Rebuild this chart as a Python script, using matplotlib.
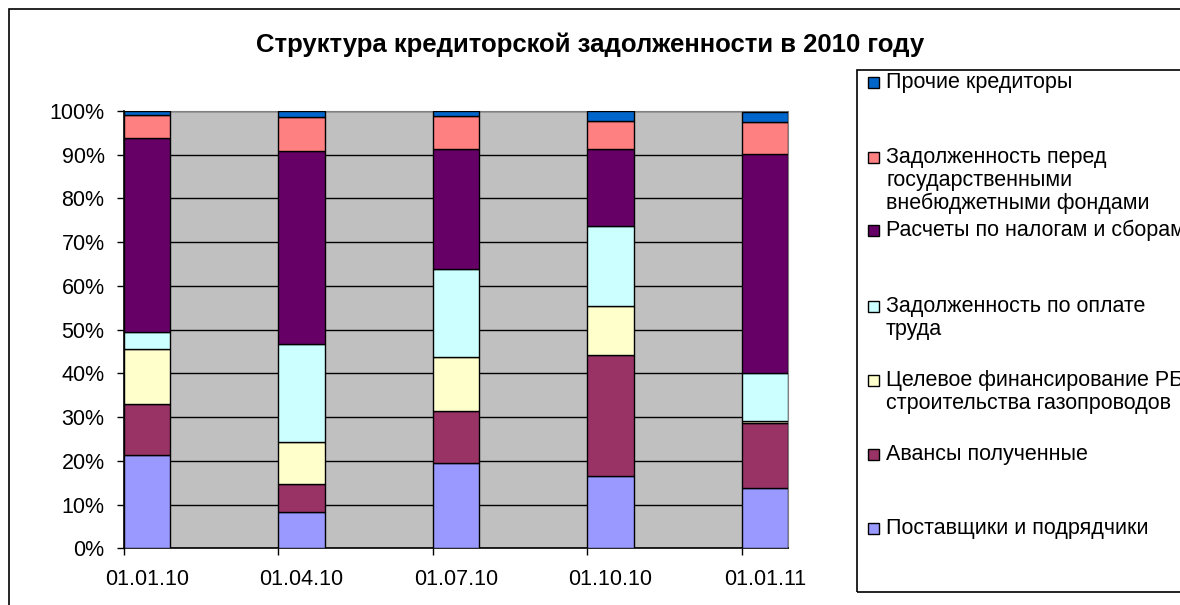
import matplotlib
matplotlib.use("Agg")
import matplotlib.pyplot as plt
from matplotlib.patches import Rectangle
from matplotlib.ticker import PercentFormatter
import numpy as np

plt.rcParams['font.family'] = ['Liberation Sans', 'DejaVu Sans']

dates = ["01.01.10", "01.04.10", "01.07.10", "01.10.10", "01.01.11"]

# shares, % (bottom to top)
suppliers = [21.4, 8.3, 19.6, 16.5, 13.9]
advances = [11.6, 6.4, 11.9, 27.7, 14.7]
target_fin = [12.6, 9.5, 12.3, 11.3, 0.4]
wages = [3.9, 22.5, 20.0, 18.2, 11.0]
taxes = [44.3, 44.2, 27.5, 17.6, 50.1]
funds = [5.2, 7.8, 7.6, 6.5, 7.3]
other = [1.0, 1.3, 1.1, 2.2, 2.4]

series = [suppliers, advances, target_fin, wages, taxes, funds, other]
names = ["Поставщики и подрядчики",
         "Авансы полученные",
         "Целевое финансирование РБ\nстроительства газопроводов",
         "Задолженность по оплате\nтруда",
         "Расчеты по налогам и сборам",
         "Задолженность перед\nгосударственными\nвнебюджетными фондами",
         "Прочие кредиторы"]
colors = ["#9999FF", "#993366", "#FFFFCC", "#CCFFFF", "#660066", "#FF8080", "#0066CC"]

W, H = 1180, 605
fig = plt.figure(figsize=(W / 100, H / 100), dpi=100)
ax = fig.add_axes([124 / W, (H - 548.3) / H, 664 / W, 437.3 / H])

x = np.arange(len(dates))
bottom = np.zeros(len(dates))
for vals, col in zip(series, colors):
    ax.bar(x, vals, width=0.3, bottom=bottom, color=col, edgecolor="black",
           linewidth=1.0, zorder=3)
    bottom += np.array(vals)

ax.set_facecolor("#C0C0C0")
ax.set_xlim(-0.15, 4.15)
ax.set_ylim(0, 100)
ax.set_yticks(np.arange(0, 101, 10))
ax.yaxis.set_major_formatter(PercentFormatter(decimals=0))
ax.grid(axis="y", color="black", linewidth=1.0, zorder=1)
ax.set_axisbelow(True)

ax.set_xticks(x)
ax.set_xticklabels(dates)
ax.set_xticks(x - 0.15, minor=True)
ax.tick_params(axis="x", which="major", length=0, pad=15, labelsize=15.5)
ax.tick_params(axis="x", which="minor", length=5, width=1, direction="out")
ax.tick_params(axis="y", length=5, width=1, pad=9, labelsize=15.5)

ax.spines["top"].set_color("#808080")
ax.spines["right"].set_color("#808080")
for s in ["left", "bottom"]:
    ax.spines[s].set_linewidth(1.2)

fig.text(590 / W, 1 - 45 / H, "Структура кредиторской задолженности в 2010 году",
         ha="center", va="center", fontsize=18.5, fontweight="bold")

# outer chart frame and legend frame
fig.add_artist(Rectangle((9 / W, -0.1), 1.2, 1.1 - 9 / H, transform=fig.transFigure,
                         fill=False, edgecolor="black", linewidth=1.2))
fig.add_artist(Rectangle((857 / W, 1 - 592 / H), 1.0, (592 - 70) / H,
                         transform=fig.transFigure, fill=False,
                         edgecolor="black", linewidth=1.2))

# legend entries (top to bottom, first line centre in px)
leg_y = [82, 157, 230, 306, 380, 454, 528]
for name, col, yc in zip(names[::-1], colors[::-1], leg_y):
    s = 11
    fig.add_artist(Rectangle(((873 - s / 2) / W, 1 - (yc + s / 2) / H), s / W, s / H,
                             transform=fig.transFigure, facecolor=col,
                             edgecolor="black", linewidth=1.0))
    fig.text(886 / W, 1 - (yc - 10) / H, name, ha="left", va="top",
             fontsize=15.5, linespacing=1.1)

fig.savefig("out.png", dpi=100)
